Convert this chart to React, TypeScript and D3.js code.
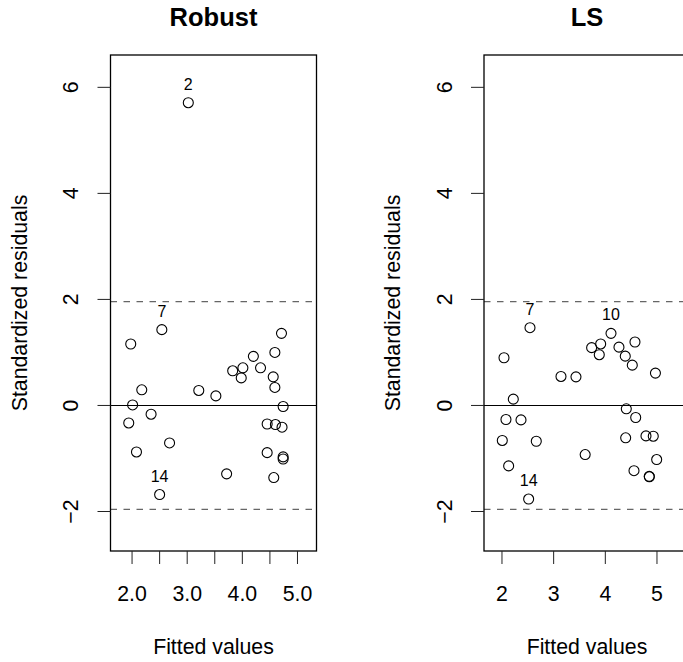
import React from "react";
import * as d3 from "d3";

// Fitted values and standardized residuals for the two fits
const robustFitted = [
  1.976, 2.54, 2.176, 2.01, 1.94, 2.345, 2.08, 2.68, 2.5, 3.21,
  3.52, 3.715, 3.825, 4.01, 3.98, 4.2, 4.33, 4.56, 4.59, 4.59,
  4.71, 4.74, 4.45, 4.6, 4.72, 4.45, 4.74, 4.74, 4.57, 3.02,
];
const robustResid = [
  1.159, 1.43, 0.295, 0.01, -0.33, -0.165, -0.877, -0.707, -1.68, 0.283,
  0.18, -1.29, 0.654, 0.71, 0.52, 0.926, 0.71, 0.54, 0.34, 1.0,
  1.36, -0.02, -0.35, -0.36, -0.41, -0.89, -0.97, -1.01, -1.36, 5.71,
];
const robustIds = [
  1, 7, 3, 4, 5, 6, 8, 9, 14, 11,
  12, 13, 10, 15, 16, 17, 18, 19, 20, 21,
  22, 23, 24, 25, 26, 27, 28, 29, 30, 2,
];
const robustLabeled = [2, 7, 14];

const lsFitted = [
  2.039, 2.542, 2.219, 2.077, 2.368, 2.006, 2.664, 2.129, 2.516, 3.142,
  3.432, 3.61, 3.735, 3.91, 3.883, 4.11, 4.264, 4.386, 4.522, 4.574,
  4.97, 4.406, 4.588, 4.394, 4.787, 4.928, 4.994, 4.555, 4.85, 4.852,
];
const lsResid = [
  0.9, 1.467, 0.119, -0.265, -0.272, -0.66, -0.675, -1.14, -1.765, 0.547,
  0.54, -0.926, 1.09, 1.16, 0.957, 1.36, 1.1, 0.93, 0.76, 1.197,
  0.61, -0.063, -0.227, -0.61, -0.574, -0.58, -1.02, -1.23, -1.337, -1.345,
];
const lsIds = [
  1, 7, 3, 4, 5, 6, 8, 9, 14, 11,
  12, 13, 15, 16, 17, 10, 18, 19, 20, 21,
  22, 23, 24, 25, 26, 27, 28, 29, 30, 31,
];
const lsLabeled = [7, 10, 14];

const yTicks = [-2, 0, 2, 4, 6];
const robustXTicks = [2.0, 2.5, 3.0, 3.5, 4.0, 4.5, 5.0];
const lsXTicks = [2, 3, 4, 5];
const cutoff = 1.96;

const FONT = "'Liberation Sans', Arial, Helvetica, sans-serif";

type PanelProps = {
  title: string;
  left: number;
  xDomain: [number, number];
  xTicks: number[];
  xLabelFmt: (v: number) => string | null;
  fitted: number[];
  resid: number[];
  ids: number[];
  labeled: number[];
};

const TOP = 55;
const BOTTOM = 551;
const WIDTH = 206;

function Panel({ title, left, xDomain, xTicks, xLabelFmt, fitted, resid, ids, labeled }: PanelProps) {
  const right = left + WIDTH;
  const x = d3.scaleLinear().domain(xDomain).range([left, right]);
  const y = d3.scaleLinear().domain([-2.745, 6.61]).range([BOTTOM, TOP]);
  const cx = (left + right) / 2;
  const cy = (TOP + BOTTOM) / 2;
  return (
    <g>
      <text x={cx} y={26} textAnchor="middle" fontFamily={FONT} fontWeight="bold" fontSize={25.5}>
        {title}
      </text>
      {/* reference lines */}
      <line x1={left} x2={right} y1={y(0)} y2={y(0)} stroke="#000" strokeWidth={1.1} />
      {[cutoff, -cutoff].map((c) => (
        <line key={c} x1={left} x2={right} y1={y(c)} y2={y(c)} stroke="#666" strokeWidth={1.3} strokeDasharray="6.5,6.5" />
      ))}
      {/* points */}
      {fitted.map((f, i) => (
        <circle key={i} cx={x(f)} cy={y(resid[i])} r={5} fill="none" stroke="#000" strokeWidth={1.1} />
      ))}
      {fitted.map((f, i) =>
        labeled.includes(ids[i]) ? (
          <text key={"l" + i} x={x(f)} y={y(resid[i]) - 13} textAnchor="middle" fontFamily={FONT} fontSize={16}>
            {ids[i]}
          </text>
        ) : null
      )}
      {/* frame */}
      <rect x={left} y={TOP} width={WIDTH} height={BOTTOM - TOP} fill="none" stroke="#000" strokeWidth={1.3} />
      {/* x axis */}
      {xTicks.map((t) => (
        <g key={t}>
          <line x1={x(t)} x2={x(t)} y1={BOTTOM} y2={BOTTOM + 13} stroke="#222" strokeWidth={1} />
          {xLabelFmt(t) !== null && (
            <text x={x(t)} y={601} textAnchor="middle" fontFamily={FONT} fontSize={21.3}>
              {xLabelFmt(t)}
            </text>
          )}
        </g>
      ))}
      <text x={cx} y={654} textAnchor="middle" fontFamily={FONT} fontSize={21.3}>
        Fitted values
      </text>
      {/* y axis */}
      {yTicks.map((t) => (
        <g key={t}>
          <line x1={left - 13} x2={left} y1={y(t)} y2={y(t)} stroke="#222" strokeWidth={1} />
          <text
            transform={`translate(${left - 32.5},${y(t)}) rotate(-90)`}
            textAnchor="middle"
            fontFamily={FONT}
            fontSize={21.3}
          >
            {t < 0 ? "\u2212" + Math.abs(t) : String(t)}
          </text>
        </g>
      ))}
      <text
        transform={`translate(${left - 84},${cy}) rotate(-90)`}
        textAnchor="middle"
        fontFamily={FONT}
        fontSize={21.3}
      >
        Standardized residuals
      </text>
    </g>
  );
}

export default function App() {
  return (
    <svg
      width={683}
      height={662}
      style={{ position: "absolute", left: 0, top: 0, background: "#fff" }}
    >
      <rect width={683} height={662} fill="#fff" />
      <Panel
        title="Robust"
        left={110.5}
        xDomain={[1.609, 5.345]}
        xTicks={robustXTicks}
        xLabelFmt={(v) => (Number.isInteger(v) ? d3.format(".1f")(v) : null)}
        fitted={robustFitted}
        resid={robustResid}
        ids={robustIds}
        labeled={robustLabeled}
      />
      <Panel
        title="LS"
        left={484}
        xDomain={[1.652, 5.639]}
        xTicks={lsXTicks}
        xLabelFmt={(v) => String(v)}
        fitted={lsFitted}
        resid={lsResid}
        ids={lsIds}
        labeled={lsLabeled}
      />
    </svg>
  );
}
